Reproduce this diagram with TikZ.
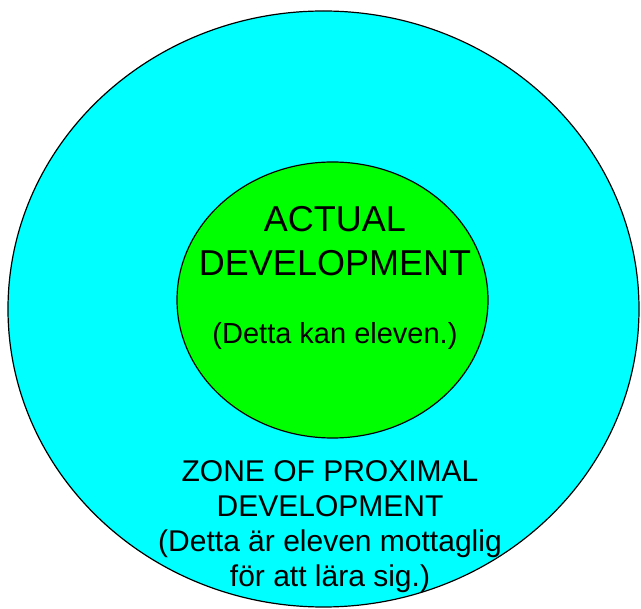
\documentclass[tikz,border=0pt]{standalone}
\usepackage{fontspec}
\setmainfont{Liberation Sans}
\usetikzlibrary{shapes.geometric}
\definecolor{zpdcyan}{RGB}{0,255,255}
\definecolor{adgreen}{RGB}{0,255,0}

\begin{document}
\begin{tikzpicture}[x = 1pt, y = -1pt]
    \tikzstyle{blob} = [draw, ellipse, line width = 1.2pt, inner sep = 0pt];
    \tikzstyle{label} = [align = center, anchor = base, inner sep = 0pt];
    \useasboundingbox (0,0) rectangle (641,609);
    % circles:
    \node[blob, fill = zpdcyan, minimum width = 631pt, minimum height = 596pt] (zpd) at (323.5,309){};
    \node[blob, fill = adgreen, minimum width = 311pt, minimum height = 276pt] (ad) at (332.5,300){};
    % texts (anchored at the last baseline):
    \node[label, font = \fontsize{36}{44}\selectfont] (adtitle) at (335,276){ACTUAL\\DEVELOPMENT};
    \node[label, font = \fontsize{29}{34}\selectfont] (adnote) at (335,344){(Detta kan eleven.)};
    \node[label, font = \fontsize{30}{35}\selectfont] (zpdtitle) at (330,587){ZONE OF PROXIMAL\\DEVELOPMENT\\(Detta är eleven mottaglig\\för att lära sig.)};
\end{tikzpicture}
\end{document}
